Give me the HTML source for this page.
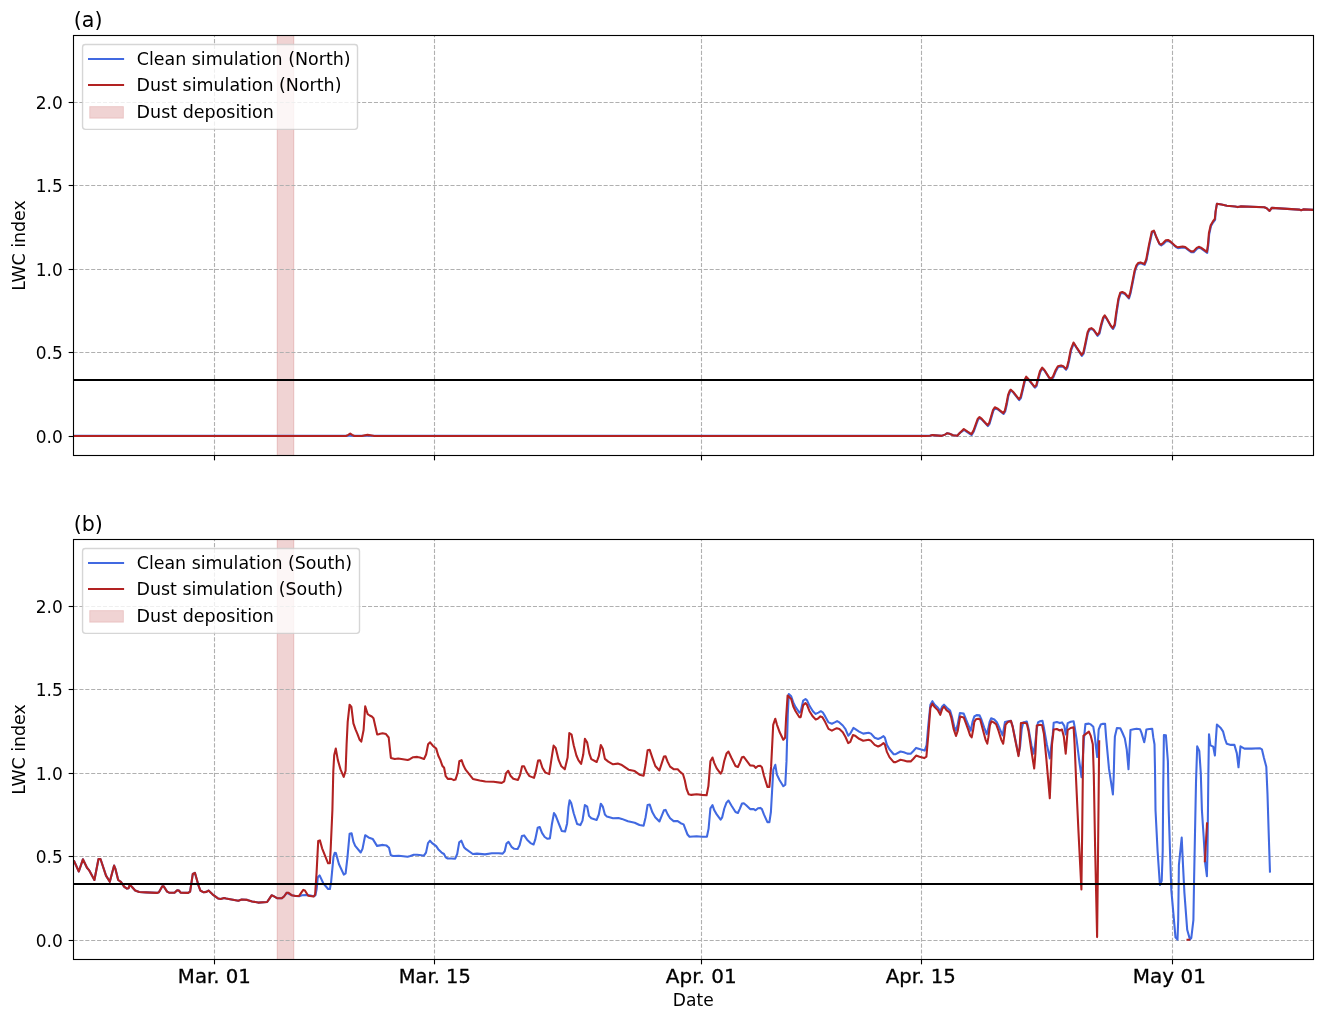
<!DOCTYPE html>
<html lang="en">
<head>
<meta charset="utf-8">
<title>LWC index - clean vs dust simulation</title>
<style>
html,body{margin:0;padding:0;background:#fff;}
body{width:1326px;height:1017px;overflow:hidden;font-family:'DejaVu Sans','Liberation Sans',sans-serif;}
svg{display:block;will-change:transform;}
text{white-space:pre;}
</style>
</head>
<body>
<svg width="1326" height="1017" viewBox="0 0 1326 1017" font-family="'DejaVu Sans','Liberation Sans',sans-serif" fill="#000">
<rect width="1326" height="1017" fill="#fff"/>
<clipPath id="ca"><rect x="73.5" y="35.5" width="1240.0" height="420.0"/></clipPath>
<g clip-path="url(#ca)">
<rect x="277.2" y="35.5" width="16.6" height="420.0" fill="#b22222" fill-opacity="0.2" stroke="#b22222" stroke-opacity="0.2" stroke-width="1"/>
<g stroke="#b0b0b0" stroke-width="1.11" stroke-dasharray="4.11 1.78" fill="none">
<path d="M214.5 455.5V35.5"/>
<path d="M434.5 455.5V35.5"/>
<path d="M701.5 455.5V35.5"/>
<path d="M921.5 455.5V35.5"/>
<path d="M1172.5 455.5V35.5"/>
<path d="M73.5 436.5H1313.5"/>
<path d="M73.5 352.5H1313.5"/>
<path d="M73.5 269.5H1313.5"/>
<path d="M73.5 185.5H1313.5"/>
<path d="M73.5 102.5H1313.5"/>
</g>
<polyline points="73.5,435.8 346.0,435.8 348.3,435.8 350.2,435.8 352.1,435.8 354.3,435.8 361.9,435.8 365.0,435.8 367.5,435.8 370.5,435.8 374.3,435.8 900.0,435.8 925.0,435.8 929.9,435.8 932.4,435.1 941.5,435.9 945.0,434.6 947.3,433.2 949.5,433.8 953.1,435.2 957.2,435.7 960.0,432.8 964.1,429.9 967.9,432.6 971.7,435.0 973.8,431.5 976.5,423.9 978.1,419.6 979.8,418.0 981.9,419.6 987.9,426.1 989.5,423.9 991.7,416.4 993.3,410.9 995.1,408.2 997.6,409.3 1003.6,414.0 1005.2,411.5 1006.8,404.5 1008.4,395.8 1010.1,391.5 1011.1,390.6 1013.3,392.6 1019.2,400.1 1020.9,398.0 1023.0,389.3 1025.0,380.7 1026.5,377.6 1028.4,379.6 1034.9,387.7 1036.6,386.1 1038.2,379.6 1040.3,372.0 1042.5,368.5 1044.7,370.9 1049.5,378.5 1051.7,379.4 1053.3,377.4 1056.0,370.9 1058.2,367.1 1061.4,366.4 1063.6,367.1 1066.1,369.8 1067.4,367.7 1069.0,361.2 1071.1,350.4 1073.8,343.4 1076.5,347.7 1081.9,355.8 1083.6,353.7 1085.7,343.9 1087.9,333.1 1089.5,329.9 1091.7,329.0 1093.8,330.4 1097.6,335.8 1099.5,333.6 1101.4,325.5 1103.4,318.5 1105.0,316.3 1106.8,319.0 1111.1,326.6 1113.1,329.0 1114.9,325.5 1116.5,313.6 1118.7,299.6 1120.5,293.6 1122.5,292.9 1125.2,294.2 1129.0,298.5 1130.6,293.1 1132.8,282.3 1134.9,271.5 1136.7,266.2 1138.4,263.9 1140.8,263.3 1144.7,264.9 1146.5,260.4 1149.4,245.0 1152.1,232.5 1154.2,231.5 1156.4,237.4 1159.6,244.4 1161.3,245.5 1163.4,243.9 1166.1,241.2 1168.3,240.9 1171.0,242.6 1175.9,247.1 1178.0,248.2 1182.9,247.4 1185.6,248.0 1189.4,250.9 1191.5,252.3 1193.7,252.3 1197.0,248.8 1199.1,247.7 1201.3,248.6 1207.2,252.8 1208.3,245.0 1209.2,234.2 1211.0,226.1 1213.2,222.3 1215.1,219.9 1215.6,211.6 1216.9,203.8 1221.5,204.6 1226.9,205.7 1232.4,206.2 1235.1,206.5 1237.8,207.1 1240.5,206.4 1264.3,207.3 1266.7,208.3 1269.6,210.9 1271.7,207.9 1299.1,209.6 1301.1,210.2 1303.3,209.4 1313.5,209.9" fill="none" stroke="#4169e1" stroke-width="2.08" stroke-linejoin="round" stroke-linecap="butt"/>
<polyline points="73.5,436.0 346.0,436.0 348.3,434.9 350.2,433.5 352.1,434.9 354.3,436.0 361.9,436.0 365.0,435.2 367.5,434.9 370.5,435.3 374.3,436.0 900.0,436.0 925.0,436.0 929.9,435.7 932.4,435.1 941.5,435.9 945.0,434.6 947.3,433.2 949.5,433.8 953.1,435.2 957.2,435.7 960.0,432.8 963.8,429.0 967.6,431.7 971.4,434.1 973.5,430.6 976.2,423.0 977.8,418.7 979.5,417.1 981.6,418.7 987.6,425.2 989.2,423.0 991.4,415.5 993.0,410.0 994.8,407.3 997.3,408.4 1003.3,413.1 1004.9,410.6 1006.5,403.6 1008.1,394.9 1009.8,390.6 1010.8,389.7 1013.0,391.7 1018.9,399.2 1020.6,397.1 1022.7,388.4 1024.7,379.8 1026.2,376.7 1028.1,378.7 1034.6,386.8 1036.3,385.2 1037.9,378.7 1040.0,371.1 1042.2,367.6 1044.4,370.0 1049.2,377.6 1051.4,378.5 1053.0,376.5 1055.7,370.0 1057.9,366.2 1061.1,365.5 1063.3,366.2 1065.8,368.9 1067.1,366.8 1068.7,360.3 1070.8,349.5 1073.5,342.5 1076.2,346.8 1081.6,354.9 1083.3,352.8 1085.4,343.0 1087.6,332.2 1089.2,329.0 1091.4,328.1 1093.5,329.5 1097.3,334.9 1099.2,332.7 1101.1,324.6 1103.1,317.6 1104.7,315.4 1106.5,318.1 1110.8,325.7 1112.8,328.1 1114.6,324.6 1116.2,312.7 1118.4,298.7 1120.2,292.7 1122.2,292.0 1124.9,293.3 1128.7,297.6 1130.3,292.2 1132.5,281.4 1134.6,270.6 1136.4,265.3 1138.1,263.0 1140.5,262.4 1144.4,264.0 1146.2,259.5 1149.1,244.1 1151.8,231.6 1153.9,230.6 1156.1,236.5 1159.3,243.5 1161.0,244.6 1163.1,243.0 1165.8,240.3 1168.0,240.0 1170.7,241.7 1175.6,246.2 1177.7,247.3 1182.6,246.5 1185.3,247.1 1189.1,250.0 1191.2,251.4 1193.4,251.4 1196.7,247.9 1198.8,246.8 1201.0,247.7 1206.9,251.9 1208.0,244.1 1208.9,233.3 1210.7,225.2 1212.9,221.4 1214.8,219.0 1215.6,211.6 1216.9,203.8 1221.5,204.6 1226.9,205.7 1232.4,206.2 1235.1,206.5 1237.8,207.1 1240.5,206.4 1264.3,207.3 1266.7,208.3 1269.6,210.9 1271.7,207.9 1299.1,209.6 1301.1,210.2 1303.3,209.4 1313.5,209.9" fill="none" stroke="#b22222" stroke-width="2.08" stroke-linejoin="round" stroke-linecap="butt"/>
<path d="M73.5 380H1313.5" stroke="#000" stroke-width="2.08" fill="none"/>
</g>
<g stroke="#000" stroke-width="1.11" fill="none">
<path d="M214.5 455.5v4.86"/>
<path d="M434.5 455.5v4.86"/>
<path d="M701.5 455.5v4.86"/>
<path d="M921.5 455.5v4.86"/>
<path d="M1172.5 455.5v4.86"/>
<path d="M73.5 436.5h-4.86"/>
<path d="M73.5 352.5h-4.86"/>
<path d="M73.5 269.5h-4.86"/>
<path d="M73.5 185.5h-4.86"/>
<path d="M73.5 102.5h-4.86"/>
</g>
<rect x="73.5" y="35.5" width="1240.0" height="420.0" fill="none" stroke="#000" stroke-width="1.11"/>
<text x="35.76" y="442.70" font-size="17.6" textLength="27.04" lengthAdjust="spacingAndGlyphs">0.0</text>
<text x="35.76" y="358.70" font-size="17.6" textLength="27.04" lengthAdjust="spacingAndGlyphs">0.5</text>
<text x="35.76" y="275.70" font-size="17.6" textLength="27.04" lengthAdjust="spacingAndGlyphs">1.0</text>
<text x="35.76" y="191.70" font-size="17.6" textLength="27.04" lengthAdjust="spacingAndGlyphs">1.5</text>
<text x="35.76" y="108.70" font-size="17.6" textLength="27.04" lengthAdjust="spacingAndGlyphs">2.0</text>
<text transform="translate(25.15 245.50) rotate(-90)" x="-45.19" y="0" font-size="17.6" textLength="90.38" lengthAdjust="spacingAndGlyphs">LWC index</text>
<text x="73.72" y="27.00" font-size="20.83" textLength="28.75" lengthAdjust="spacingAndGlyphs">(a)</text>
<rect x="82.56" y="44.45" width="274.95" height="84.92" rx="2.8" ry="2.8" fill="#fff" fill-opacity="0.8" stroke="#ccc" stroke-opacity="0.8" stroke-width="1.39"/>
<path d="M88 59.0h36.1" stroke="#4169e1" stroke-width="2"/>
<path d="M88 85.0h36.1" stroke="#b22222" stroke-width="2"/>
<rect x="89.7" y="106.6" width="33.7" height="11.6" fill="#b22222" fill-opacity="0.2" stroke="#b22222" stroke-opacity="0.15" stroke-width="1"/>
<text x="136.72" y="64.90" font-size="17.7" textLength="213.88" lengthAdjust="spacingAndGlyphs">Clean simulation (North)</text>
<text x="136.59" y="91.00" font-size="17.7" textLength="204.91" lengthAdjust="spacingAndGlyphs">Dust simulation (North)</text>
<text x="136.59" y="117.85" font-size="17.7" textLength="137.30" lengthAdjust="spacingAndGlyphs">Dust deposition</text>
<clipPath id="cb"><rect x="73.5" y="539.5" width="1240.0" height="420.0"/></clipPath>
<g clip-path="url(#cb)">
<rect x="277.2" y="539.5" width="16.6" height="420.0" fill="#b22222" fill-opacity="0.2" stroke="#b22222" stroke-opacity="0.2" stroke-width="1"/>
<g stroke="#b0b0b0" stroke-width="1.11" stroke-dasharray="4.11 1.78" fill="none">
<path d="M214.5 959.5V539.5"/>
<path d="M434.5 959.5V539.5"/>
<path d="M701.5 959.5V539.5"/>
<path d="M921.5 959.5V539.5"/>
<path d="M1172.5 959.5V539.5"/>
<path d="M73.5 940.5H1313.5"/>
<path d="M73.5 856.5H1313.5"/>
<path d="M73.5 773.5H1313.5"/>
<path d="M73.5 689.5H1313.5"/>
<path d="M73.5 606.5H1313.5"/>
</g>
<polyline points="73.8,860.4 78.8,871.5 82.9,859.3 87.0,867.8 89.0,870.1 94.4,880.0 98.5,859.0 100.5,859.0 106.0,875.6 109.8,881.8 114.1,865.5 115.5,869.2 118.2,880.0 120.9,881.8 124.3,886.8 127.0,888.6 128.6,888.2 129.7,884.8 131.8,886.8 135.2,890.5 139.2,892.0 146.0,892.4 156.9,892.9 158.9,892.3 162.3,886.2 163.7,886.4 167.1,891.6 169.1,892.7 174.5,892.7 177.2,890.2 178.9,890.5 180.6,892.7 188.1,892.9 190.1,891.6 192.8,873.9 194.9,872.8 198.3,884.8 200.3,890.5 203.7,892.3 206.4,891.9 208.5,890.6 212.5,894.3 218.0,898.4 220.7,899.0 224.1,898.1 226.1,898.6 238.3,900.7 241.7,899.5 247.2,899.9 252.1,901.4 258.1,902.6 267.1,902.0 269.6,898.3 271.6,895.3 273.2,895.9 277.4,898.3 281.6,898.3 284.0,896.5 286.8,892.7 288.3,893.5 291.9,895.3 295.5,896.0 299.1,896.2 302.1,895.3 305.8,895.1 309.4,895.3 313.6,896.3 315.4,895.3 316.6,889.3 317.8,877.2 319.6,875.4 323.3,883.3 328.1,889.0 329.9,889.0 331.1,882.1 333.5,856.7 334.7,852.9 335.9,853.1 338.9,864.0 343.8,874.6 345.6,873.4 347.4,857.9 349.6,833.8 351.6,833.2 353.4,841.6 355.2,845.9 360.7,852.5 362.5,848.9 365.2,835.2 368.5,837.4 372.7,838.9 377.0,845.9 383.0,844.9 386.6,845.6 389.0,847.7 390.8,855.3 393.4,856.0 398.8,855.7 407.6,856.7 410.4,856.0 413.8,854.7 417.1,854.7 421.2,855.3 423.9,855.7 426.0,852.6 428.0,843.1 430.0,840.7 432.1,843.1 436.2,846.2 438.2,849.2 441.6,852.6 444.0,854.0 445.7,857.4 447.7,858.5 451.1,858.5 455.2,858.7 457.2,854.0 459.2,842.4 461.3,840.7 464.0,847.2 466.0,849.2 472.8,854.0 476.9,853.6 485.0,854.4 491.8,853.3 498.6,853.3 502.7,853.6 504.7,851.3 506.5,843.5 508.5,841.9 511.5,846.8 514.2,848.8 517.6,849.0 519.6,845.2 521.9,835.9 524.1,835.4 527.1,839.7 530.5,843.1 533.6,844.5 535.2,839.7 537.7,827.8 539.7,827.0 542.0,832.9 544.7,837.0 547.5,838.8 549.9,838.4 551.8,824.8 554.0,813.0 555.6,815.3 559.0,824.1 561.7,830.9 565.1,831.6 567.1,823.4 568.5,807.1 569.6,800.3 571.2,803.0 573.7,813.2 577.1,824.0 580.4,825.1 582.5,820.6 584.9,805.0 587.2,806.6 589.0,815.9 591.3,818.3 596.7,819.9 598.8,814.5 600.8,803.7 602.8,806.6 604.9,814.5 606.9,816.6 613.0,818.3 618.5,818.0 621.8,818.9 628.0,821.3 634.7,822.7 639.5,825.0 643.6,825.8 645.6,817.2 647.6,805.0 649.7,804.6 652.4,812.3 655.2,817.2 659.4,821.5 661.8,815.6 663.9,810.3 665.6,809.9 667.7,814.4 670.1,818.2 673.6,821.1 677.7,821.1 680.7,823.2 683.6,824.4 685.4,829.1 687.5,834.5 689.5,836.8 696.6,836.2 701.9,836.8 706.9,836.8 708.6,828.6 710.4,808.3 712.5,805.2 714.3,810.3 716.7,814.4 720.6,819.7 722.2,817.3 724.3,808.5 726.5,802.6 728.5,800.5 731.4,805.5 735.5,812.0 737.9,813.0 739.7,809.1 742.0,803.5 743.8,803.2 746.2,805.2 750.1,809.1 753.8,809.1 755.6,810.3 758.0,808.3 760.3,807.9 761.9,809.1 763.9,814.4 767.4,822.1 769.4,822.1 770.9,812.0 772.1,790.8 773.3,769.6 775.3,764.8 776.9,774.6 779.5,780.0 783.3,786.2 785.3,784.6 786.5,761.4 787.8,713.9 788.8,694.0 791.2,696.3 793.3,702.4 795.6,707.1 799.4,712.6 800.7,711.5 803.2,700.6 805.5,699.0 807.2,700.6 809.5,705.8 812.9,711.2 815.7,713.9 818.4,712.6 820.8,711.2 822.7,712.3 825.2,716.4 828.5,722.4 831.9,723.7 834.7,722.4 837.1,721.1 839.4,722.4 842.8,725.5 845.5,729.1 848.2,735.7 850.3,733.6 853.4,727.9 855.0,728.9 859.1,731.6 863.2,733.6 868.6,732.7 871.0,733.6 874.7,737.7 878.1,739.0 881.1,737.7 883.5,736.1 884.9,737.7 886.9,744.9 889.6,749.5 893.7,754.2 895.7,754.2 900.5,751.5 903.9,752.3 907.3,753.6 910.7,753.7 913.4,751.0 916.1,747.9 919.5,749.0 924.7,750.6 926.6,745.0 928.3,725.4 930.4,704.7 932.4,701.2 934.7,704.7 937.7,707.5 940.3,711.2 942.2,706.5 944.0,704.7 946.9,707.7 950.1,710.6 951.9,716.5 954.2,726.6 955.8,730.7 957.5,725.4 959.9,713.0 963.7,713.6 966.0,719.5 969.0,726.6 970.7,730.7 972.5,721.9 974.3,716.5 976.6,715.1 979.6,715.4 981.4,719.5 984.3,727.8 986.7,734.2 988.2,728.9 989.6,721.9 991.1,718.3 994.3,719.5 996.7,721.9 999.6,728.3 1002.6,735.4 1003.8,728.9 1005.0,721.9 1007.9,721.3 1010.9,720.9 1012.6,726.0 1015.6,740.7 1018.5,754.9 1020.1,746.6 1021.7,728.9 1023.2,722.4 1026.8,721.6 1028.6,728.9 1031.5,745.5 1033.5,753.7 1035.0,745.5 1036.8,728.9 1038.0,722.4 1039.8,721.3 1042.5,720.9 1043.9,727.8 1046.8,744.3 1049.8,758.4 1051.5,744.3 1052.8,734.4 1053.7,722.8 1056.9,722.1 1059.8,723.1 1062.0,722.4 1064.3,725.8 1065.7,734.4 1066.7,729.5 1067.7,723.1 1070.7,721.8 1073.6,721.3 1074.6,726.6 1076.6,739.3 1079.5,762.9 1081.5,777.2 1082.5,762.9 1083.9,739.3 1085.4,724.1 1088.9,723.6 1090.8,724.4 1093.3,726.8 1094.8,736.4 1096.2,749.2 1097.2,757.0 1097.9,742.3 1098.7,729.5 1100.7,724.6 1103.1,723.8 1105.1,723.9 1106.1,737.4 1109.0,768.9 1112.9,794.4 1113.7,776.7 1114.4,749.2 1114.9,736.4 1116.9,728.0 1120.3,728.2 1122.3,732.5 1124.8,738.4 1126.7,749.2 1128.5,769.3 1129.5,749.2 1130.5,730.0 1133.6,729.3 1136.6,728.8 1140.0,729.2 1141.5,732.9 1144.2,742.3 1145.2,737.4 1146.4,729.5 1149.3,729.0 1152.2,728.7 1153.3,737.4 1154.5,744.3 1155.0,768.9 1155.5,810.0 1157.6,851.3 1159.9,885.0 1161.7,880.9 1162.7,851.3 1163.2,790.0 1163.9,735.1 1165.9,735.4 1167.9,761.4 1168.7,810.0 1170.0,851.3 1171.3,889.8 1175.5,937.3 1177.5,939.7 1178.2,920.1 1178.9,865.1 1181.7,837.5 1183.0,865.1 1184.4,892.6 1187.2,929.8 1189.9,939.4 1191.3,938.0 1193.4,920.1 1194.1,878.8 1196.0,782.6 1197.2,746.3 1199.3,751.0 1200.8,773.2 1201.9,810.0 1203.7,837.5 1205.1,862.3 1206.9,876.1 1207.5,851.3 1208.4,770.8 1209.0,734.2 1210.4,745.4 1213.2,746.6 1214.9,755.5 1215.9,739.0 1216.9,724.6 1220.8,728.1 1223.0,731.3 1225.0,739.0 1226.7,743.7 1230.9,744.9 1234.4,744.9 1236.8,753.1 1238.5,767.3 1239.5,756.7 1240.5,746.4 1244.4,748.6 1251.5,748.6 1259.8,748.2 1261.9,749.3 1263.9,757.8 1266.3,766.7 1267.5,794.4 1268.6,830.0 1270.0,872.6" fill="none" stroke="#4169e1" stroke-width="2.08" stroke-linejoin="round" stroke-linecap="butt"/>
<polyline points="73.8,860.4 78.8,871.5 82.9,859.3 87.0,867.8 89.0,870.1 94.4,880.0 98.5,859.0 100.5,859.0 106.0,875.6 109.8,881.8 114.1,865.5 115.5,869.2 118.2,880.0 120.9,881.8 124.3,886.8 127.0,888.6 128.6,888.2 129.7,884.8 131.8,886.8 135.2,890.5 139.2,892.0 146.0,892.4 156.9,892.9 158.9,892.3 162.3,886.2 163.7,886.4 167.1,891.6 169.1,892.7 174.5,892.7 177.2,890.2 178.9,890.5 180.6,892.7 188.1,892.9 190.1,891.6 192.8,873.9 194.9,872.8 198.3,884.8 200.3,890.5 203.7,892.3 206.4,891.9 208.5,890.6 212.5,894.3 218.0,898.4 220.7,899.0 224.1,898.1 226.1,898.6 238.3,900.7 241.7,899.5 247.2,899.9 252.1,901.4 258.1,902.6 267.1,902.0 269.6,898.3 271.6,895.3 273.2,895.9 277.4,898.3 281.6,898.3 284.0,896.5 286.8,892.7 288.3,892.7 291.9,895.3 295.5,896.0 299.1,895.9 301.5,892.3 303.3,889.9 304.9,890.5 308.2,895.7 313.6,896.5 315.1,894.7 316.6,872.4 318.2,841.0 319.9,840.4 322.1,848.3 328.1,863.3 329.9,863.3 330.7,848.3 332.4,810.0 333.3,771.4 334.2,755.2 335.8,748.6 337.8,759.9 340.5,769.4 343.7,776.9 345.6,770.8 346.6,744.3 347.7,721.9 349.6,704.7 351.4,707.0 353.4,723.3 355.5,729.4 357.5,734.1 359.5,739.5 361.3,741.6 363.6,730.0 365.2,706.3 367.7,714.2 369.7,715.5 371.8,716.5 373.5,718.2 377.2,734.4 379.2,734.1 382.6,733.2 386.0,734.1 388.7,737.5 390.9,757.9 394.8,759.0 398.2,758.5 407.7,760.0 409.8,759.2 413.2,757.2 417.2,756.9 419.9,757.6 424.0,759.0 426.1,754.5 428.1,744.3 430.1,742.3 432.8,745.7 436.2,748.6 438.3,755.8 440.3,759.9 442.3,765.7 444.1,767.8 445.7,776.2 447.8,778.9 451.2,778.9 453.9,780.1 455.5,779.6 457.7,772.8 459.3,761.3 461.6,760.2 463.4,765.3 465.4,769.4 472.9,778.9 479.7,780.5 485.4,781.5 493.6,781.7 501.7,782.9 504.2,781.3 506.1,773.1 508.2,770.8 510.5,775.8 513.3,778.8 518.0,779.9 520.0,775.2 522.1,766.3 524.1,766.3 526.8,772.4 529.5,776.1 534.0,777.9 535.9,771.1 538.1,760.5 540.0,760.2 542.4,767.7 545.2,772.4 549.2,774.1 551.3,760.2 553.6,745.6 555.7,748.0 558.7,760.2 561.4,766.3 564.8,769.3 567.6,757.5 569.3,733.1 571.6,734.7 573.7,745.3 576.4,755.5 578.4,760.2 581.1,763.9 583.2,754.8 584.9,738.8 587.2,742.6 589.3,753.4 591.3,759.1 596.7,762.0 598.8,756.2 600.8,745.0 602.8,748.7 604.9,758.9 608.3,761.6 613.0,764.3 617.8,763.6 621.2,764.7 628.6,769.7 634.7,771.1 639.5,774.7 643.6,775.8 645.6,764.3 647.6,750.3 649.7,749.8 652.4,757.8 655.3,766.0 659.4,770.5 661.8,763.1 663.9,756.6 665.6,756.3 667.7,761.9 670.1,766.6 673.6,769.2 677.7,769.2 680.1,771.9 683.0,774.3 684.8,780.2 686.6,789.0 688.7,794.3 691.3,794.9 696.6,794.3 701.9,794.9 706.6,795.2 708.4,786.1 710.4,761.3 712.5,757.5 714.3,763.1 716.7,768.4 720.6,773.7 722.2,770.7 724.3,760.7 726.5,753.6 728.5,751.6 731.4,757.8 735.5,766.0 737.9,767.0 739.7,763.1 742.0,757.2 743.8,756.9 746.2,760.1 750.1,765.4 753.8,765.8 755.6,767.8 758.0,766.0 760.3,765.8 761.9,767.2 763.9,775.5 767.4,786.9 769.4,786.9 771.1,766.9 773.2,724.8 775.3,718.7 777.0,724.8 779.7,732.3 783.3,739.7 785.1,737.7 786.1,718.0 787.6,695.6 791.2,699.0 793.3,706.5 795.6,711.2 799.4,717.3 800.7,717.1 803.2,705.1 805.5,703.1 806.8,704.4 809.5,711.2 812.9,716.6 815.7,719.4 817.7,718.7 820.4,716.4 822.4,717.3 825.2,722.1 828.5,728.9 831.9,730.6 834.7,729.1 836.7,728.2 839.4,729.1 842.8,732.3 845.5,737.0 848.2,743.1 850.3,741.8 853.0,735.0 855.0,735.7 859.1,738.8 863.2,740.8 868.6,739.7 870.6,740.4 874.7,744.9 878.1,746.5 880.8,745.2 883.5,743.1 884.9,744.5 886.9,751.9 889.6,757.4 893.7,762.1 895.7,762.1 900.5,759.8 903.9,760.4 907.3,761.4 910.7,761.4 913.4,758.7 916.1,755.6 919.5,756.7 924.2,758.1 926.4,756.7 928.3,734.8 930.4,707.7 932.4,703.6 934.2,706.5 937.7,710.1 940.3,714.8 942.2,708.9 944.0,706.5 946.5,710.1 949.5,712.4 951.3,717.7 953.6,728.9 956.0,736.0 957.8,730.7 960.1,716.5 963.7,717.4 965.4,721.9 968.4,730.1 970.1,735.4 971.7,737.4 973.1,730.1 974.3,721.9 976.0,719.3 978.4,718.7 980.2,719.5 982.5,728.3 985.5,739.6 987.3,743.7 988.4,737.2 989.9,725.4 991.4,721.3 993.7,722.4 996.1,724.2 998.5,730.7 1001.4,740.1 1003.2,743.7 1004.4,734.8 1005.5,724.8 1007.9,721.9 1010.9,720.9 1012.6,726.6 1015.6,741.9 1018.5,756.1 1019.7,746.6 1020.9,723.0 1023.8,722.8 1026.8,723.4 1028.6,731.3 1031.5,751.4 1034.2,768.5 1035.4,753.7 1036.8,725.4 1039.8,724.8 1042.1,725.2 1043.9,733.7 1046.3,758.4 1049.8,798.3 1051.0,768.9 1052.0,744.3 1053.7,729.5 1056.9,729.0 1059.8,730.5 1062.0,729.5 1063.8,736.4 1065.7,753.6 1066.9,739.3 1067.7,730.0 1070.7,728.0 1073.6,727.3 1074.6,744.3 1076.1,780.0 1078.4,830.1 1081.4,889.5 1082.2,830.1 1082.9,768.9 1083.4,735.9 1085.9,733.9 1088.9,731.7 1090.8,735.9 1092.8,744.3 1093.8,775.0 1095.1,846.9 1097.1,937.1 1098.1,846.9 1099.2,740.3" fill="none" stroke="#b22222" stroke-width="2.08" stroke-linejoin="round" stroke-linecap="butt"/>
<polyline points="1186.5,939.7 1190.2,939.7" fill="none" stroke="#b22222" stroke-width="2.08" stroke-linejoin="round" stroke-linecap="butt"/>
<polyline points="1204.8,862.3 1207.1,822.4" fill="none" stroke="#b22222" stroke-width="2.08" stroke-linejoin="round" stroke-linecap="butt"/>
<path d="M73.5 884.0H1313.5" stroke="#000" stroke-width="2.08" fill="none"/>
</g>
<g stroke="#000" stroke-width="1.11" fill="none">
<path d="M214.5 959.5v4.86"/>
<path d="M434.5 959.5v4.86"/>
<path d="M701.5 959.5v4.86"/>
<path d="M921.5 959.5v4.86"/>
<path d="M1172.5 959.5v4.86"/>
<path d="M73.5 940.5h-4.86"/>
<path d="M73.5 856.5h-4.86"/>
<path d="M73.5 773.5h-4.86"/>
<path d="M73.5 689.5h-4.86"/>
<path d="M73.5 606.5h-4.86"/>
</g>
<rect x="73.5" y="539.5" width="1240.0" height="420.0" fill="none" stroke="#000" stroke-width="1.11"/>
<text x="35.76" y="946.70" font-size="17.6" textLength="27.04" lengthAdjust="spacingAndGlyphs">0.0</text>
<text x="35.76" y="862.70" font-size="17.6" textLength="27.04" lengthAdjust="spacingAndGlyphs">0.5</text>
<text x="35.76" y="779.70" font-size="17.6" textLength="27.04" lengthAdjust="spacingAndGlyphs">1.0</text>
<text x="35.76" y="695.70" font-size="17.6" textLength="27.04" lengthAdjust="spacingAndGlyphs">1.5</text>
<text x="35.76" y="612.70" font-size="17.6" textLength="27.04" lengthAdjust="spacingAndGlyphs">2.0</text>
<text transform="translate(25.15 749.50) rotate(-90)" x="-45.19" y="0" font-size="17.6" textLength="90.38" lengthAdjust="spacingAndGlyphs">LWC index</text>
<text x="73.72" y="531.00" font-size="20.83" textLength="29.21" lengthAdjust="spacingAndGlyphs">(b)</text>
<g stroke="#000" stroke-width="0.3">
<text x="177.87" y="982.65" font-size="19.6" textLength="73.06" lengthAdjust="spacingAndGlyphs">Mar. 01</text>
<text x="398.79" y="982.65" font-size="19.6" textLength="71.99" lengthAdjust="spacingAndGlyphs">Mar. 15</text>
<text x="665.79" y="982.65" font-size="19.6" textLength="70.86" lengthAdjust="spacingAndGlyphs">Apr. 01</text>
<text x="885.84" y="982.65" font-size="19.6" textLength="69.97" lengthAdjust="spacingAndGlyphs">Apr. 15</text>
<text x="1132.74" y="982.65" font-size="19.6" textLength="73.15" lengthAdjust="spacingAndGlyphs">May 01</text>
</g>
<text x="672.83" y="1005.90" font-size="17.6" textLength="40.82" lengthAdjust="spacingAndGlyphs">Date</text>
<rect x="82.56" y="548.45" width="276.94" height="84.92" rx="2.8" ry="2.8" fill="#fff" fill-opacity="0.8" stroke="#ccc" stroke-opacity="0.8" stroke-width="1.39"/>
<path d="M88 563.0h36.1" stroke="#4169e1" stroke-width="2"/>
<path d="M88 589.0h36.1" stroke="#b22222" stroke-width="2"/>
<rect x="89.7" y="610.6" width="33.7" height="11.6" fill="#b22222" fill-opacity="0.2" stroke="#b22222" stroke-opacity="0.15" stroke-width="1"/>
<text x="136.73" y="568.90" font-size="17.7" textLength="215.42" lengthAdjust="spacingAndGlyphs">Clean simulation (South)</text>
<text x="136.59" y="595.00" font-size="17.7" textLength="206.35" lengthAdjust="spacingAndGlyphs">Dust simulation (South)</text>
<text x="136.59" y="621.85" font-size="17.7" textLength="137.30" lengthAdjust="spacingAndGlyphs">Dust deposition</text>
</svg>
</body>
</html>
